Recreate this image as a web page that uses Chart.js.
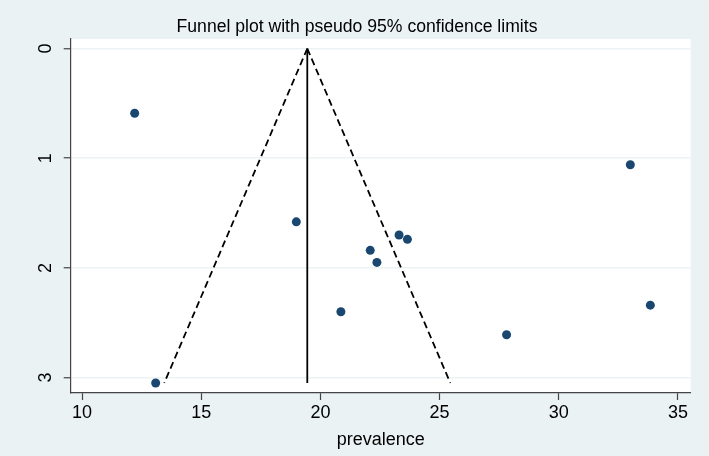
<!DOCTYPE html>
<html>
<head>
<meta charset="utf-8">
<script src="https://cdn.jsdelivr.net/npm/chart.js@4"></script>
<style>
  html, body { margin: 0; padding: 0; background: #eaf2f3; }
  #wrap { width: 709px; height: 456px; }
</style>
</head>
<body>
<div id="wrap"><canvas id="funnel" width="709" height="456"></canvas></div>
<script>
// study estimates
const prevalence = [12.21, 18.99, 22.09, 22.37, 23.30, 23.65, 27.81, 33.84, 33.00, 20.86, 13.09];
const stdError   = [0.59, 1.58, 1.84, 1.95, 1.70, 1.74, 2.61, 2.34, 1.06, 2.40, 3.05];

// pooled estimate line and pseudo 95% limits
const pooledX = [19.45, 19.45];
const funnelY = [0, 3.05];
const lowerX  = [19.45, 13.45];
const upperX  = [19.45, 25.45];

const xTicks = [10, 15, 20, 25, 30, 35];
const yTicks = [0, 1, 2, 3];

const bg = '#eaf2f3';
const axisCol = '#444';

function pairs(xs, ys) {
    return xs.map(function(x, i) { return {x: x, y: ys[i]}; });
}

const background = {
    id: 'background',
    beforeDraw: function(chart) {
        const ctx = chart.ctx;
        const a = chart.chartArea;
        ctx.save();
        ctx.fillStyle = bg;
        ctx.fillRect(0, 0, chart.width, chart.height);
        ctx.fillStyle = '#ffffff';
        ctx.fillRect(a.left, a.top, a.right - a.left, a.bottom - a.top);
        ctx.restore();
    }
};

const lineSet = function(data, dashed) {
    return {
        data: data,
        showLine: true,
        borderColor: '#000',
        borderWidth: 1.8,
        borderDash: dashed ? [7, 4] : [],
        pointRadius: 0,
        fill: false
    };
};

const ctx = document.getElementById('funnel');
window.funnelChart = new Chart(ctx, {
    type: 'scatter',
    data: {
        datasets: [
            {
                data: pairs(prevalence, stdError),
                backgroundColor: '#1a476f',
                borderColor: '#1a476f',
                pointRadius: 4.5,
                pointBorderWidth: 0
            },
            lineSet(pairs(pooledX, funnelY), false),
            lineSet(pairs(lowerX, funnelY), true),
            lineSet(pairs(upperX, funnelY), true)
        ]
    },
    options: {
        responsive: false,
        animation: false,
        // left padding keeps the title centred where the reference has it
        layout: { padding: { left: 23.3, right: 18.3, top: 0, bottom: 0 } },
        plugins: {
            legend: { display: false },
            tooltip: { enabled: false },
            title: {
                display: true,
                text: 'Funnel plot with pseudo 95% confidence limits',
                color: '#000',
                font: { family: 'Liberation Sans', size: 17.6, weight: 'normal' },
                padding: { top: 16.5, bottom: 1.4 }
            }
        },
        scales: {
            x: {
                type: 'linear',
                min: 9.526,
                max: 35.533,
                afterBuildTicks: function(scale) {
                    scale.ticks = xTicks.map(function(v) { return {value: v}; });
                },
                afterFit: function(scale) { scale.height = 63; },
                grid: { drawOnChartArea: false, drawTicks: true, tickLength: 7, tickColor: axisCol, tickWidth: 1.2 },
                border: { color: axisCol, width: 1.2 },
                ticks: {
                    color: '#000',
                    padding: 2,
                    maxRotation: 0,
                    font: { family: 'Liberation Sans', size: 18 }
                },
                title: {
                    display: true,
                    text: 'prevalence',
                    color: '#000',
                    font: { family: 'Liberation Sans', size: 18 },
                    padding: { top: 0, bottom: 5 }
                }
            },
            y: {
                type: 'linear',
                reverse: true,
                min: -0.087,
                max: 3.141,
                afterBuildTicks: function(scale) {
                    scale.ticks = yTicks.map(function(v) { return {value: v}; });
                },
                afterFit: function(scale) { scale.width = 47.4; },
                grid: { color: '#edf3f4', lineWidth: 1.5, tickLength: 7, tickColor: axisCol, tickWidth: 1.2 },
                border: { color: axisCol, width: 1.2 },
                ticks: {
                    color: '#000',
                    padding: 13,
                    minRotation: 90,
                    maxRotation: 90,
                    crossAlign: 'center',
                    font: { family: 'Liberation Sans', size: 18 }
                }
            }
        }
    },
    plugins: [background]
});
</script>
</body>
</html>
